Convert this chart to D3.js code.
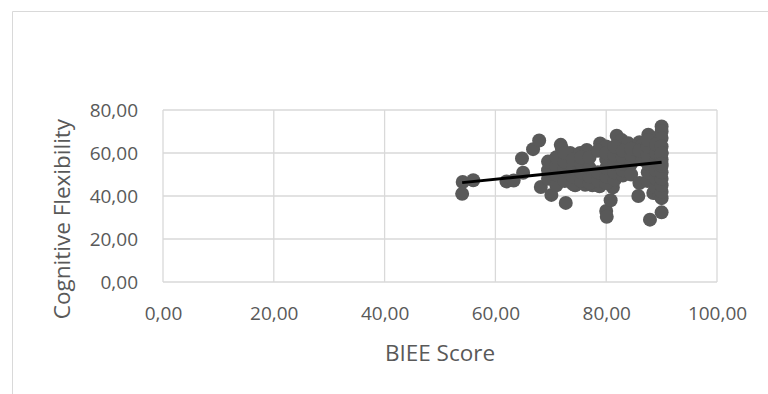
<!DOCTYPE html>
<html>
<head>
<meta charset="utf-8">
<script src="https://cdn.jsdelivr.net/npm/d3@7/dist/d3.min.js"></script>
<style>
  html, body { margin: 0; padding: 0; background: #fff; }
  svg { display: block; }
  text { font-family: "Open Sans", Lato, sans-serif; fill: #595959; }
</style>
</head>
<body>
<svg id="chart" width="768" height="394"></svg>
<script>
// BIEE score vs. cognitive flexibility, one point per participant
const biee = [
  54.1, 54.0, 56.0, 62.0, 63.3, 65.0, 64.8, 66.8, 67.9, 68.2, 70.1, 72.7,
  71.8, 72.0, 73.5, 75.3, 76.5, 78.9, 80.0, 81.9, 82.8, 84.0, 86.0, 86.5, 87.6, 89.0,
  90.0, 90.0, 90.0,
  74.4, 76.2, 77.5, 78.8, 80.0, 80.1, 80.8, 81.2, 85.8, 88.5, 89.6, 90.0, 87.9, 90.0,
  69.5, 69.5, 69.5,
  71.0, 71.0, 71.0, 71.0,
  72.5, 72.5, 72.5, 72.5,
  74.0, 74.0, 74.0, 74.0,
  75.5, 75.5, 75.5, 75.5,
  77.0, 77.0, 77.0, 77.0,
  78.5, 78.5, 78.5,
  80.0, 80.0, 80.0, 80.0, 80.0,
  81.5, 81.5, 81.5, 81.5, 81.5,
  83.0, 83.0, 83.0, 83.0, 83.0,
  84.5, 84.5, 84.5, 84.5,
  86.0, 86.5, 86.0,
  87.5, 87.5, 87.5, 87.5, 87.5, 87.5,
  89.0, 89.0, 89.0, 89.0, 89.0, 89.0,
  90.0, 90.0, 90.0, 90.0, 90.0, 90.0, 90.0, 90.0, 90.0, 90.0
];
const flexibility = [
  46.5, 41.0, 47.3, 46.8, 47.2, 50.8, 57.5, 61.8, 65.8, 44.2, 40.5, 36.8,
  63.8, 62.0, 60.0, 60.0, 61.4, 64.4, 63.0, 68.0, 66.0, 64.5, 65.0, 63.5, 68.5, 67.0,
  72.3, 70.0, 67.0,
  45.0, 45.2, 45.0, 44.5, 33.0, 30.3, 38.0, 44.0, 40.0, 41.4, 40.5, 39.0, 29.0, 32.4,
  48.0, 52.0, 56.0,
  45.0, 50.0, 54.0, 58.0,
  47.0, 52.0, 56.0, 60.0,
  45.5, 49.0, 53.0, 57.0,
  47.0, 51.0, 55.0, 58.0,
  46.0, 49.0, 53.0, 58.0,
  47.0, 51.0, 61.0,
  46.0, 49.0, 53.0, 57.0, 60.0,
  47.5, 51.0, 55.0, 59.0, 63.0,
  49.5, 52.0, 55.0, 58.0, 61.0,
  50.0, 55.0, 59.0, 62.0,
  46.0, 57.0, 61.0,
  47.0, 51.0, 55.0, 59.0, 63.0, 66.0,
  44.0, 48.0, 52.0, 56.0, 60.0, 64.0,
  42.0, 45.0, 48.0, 51.0, 54.0, 57.0, 60.0, 63.0, 60.0, 55.0
];
// linear trendline, given by its two ends
const trendX = [54, 90];
const trendY = [46.2, 55.7];
const xTicks = [0, 20, 40, 60, 80, 100];
const yTicks = [0, 20, 40, 60, 80];
const xTitle = "BIEE Score";
const yTitle = "Cognitive Flexibility";

const points = biee.map((x, i) => ({ x, y: flexibility[i] }));
const trend = trendX.map((x, i) => ({ x, y: trendY[i] }));

const svg = d3.select("#chart");
const plot = { left: 163, right: 717, top: 110, bottom: 282 };

const x = d3.scaleLinear().domain([0, 100]).range([plot.left, plot.right]);
const y = d3.scaleLinear().domain([0, 80]).range([plot.bottom, plot.top]);
const fmt = v => d3.format(".2f")(v).replace(".", ",");

// chart frame
svg.append("path")
  .attr("d", "M12.5,394 V11.5 H768")
  .attr("fill", "none")
  .attr("stroke", "#d9d9d9")
  .attr("stroke-width", 1);

// gridlines
const grid = svg.append("g").attr("stroke", "#d9d9d9").attr("stroke-width", 1.3);
grid.selectAll(".gy").data(yTicks).join("line")
  .attr("x1", plot.left).attr("x2", plot.right)
  .attr("y1", d => y(d)).attr("y2", d => y(d));
grid.selectAll(".gx").data(xTicks).join("line")
  .attr("y1", plot.top).attr("y2", plot.bottom)
  .attr("x1", d => x(d)).attr("x2", d => x(d));

// axes (labels only; lines are the gridlines)
const xAxis = svg.append("g")
  .attr("transform", `translate(0,${plot.bottom})`)
  .call(d3.axisBottom(x).tickValues(xTicks).tickFormat(fmt).tickSize(0).tickPadding(25));
const yAxis = svg.append("g")
  .attr("transform", `translate(${plot.left},0)`)
  .call(d3.axisLeft(y).tickValues(yTicks).tickFormat(fmt).tickSize(0).tickPadding(25));
[xAxis, yAxis].forEach(a => {
  a.select(".domain").remove();
  a.selectAll("text")
    .style("font-family", "'Open Sans', Lato, sans-serif")
    .style("font-size", "19px")
    .attr("fill", "#595959");
});

// markers
svg.append("g").selectAll("circle").data(points).join("circle")
  .attr("cx", d => x(d.x))
  .attr("cy", d => y(d.y))
  .attr("r", 7)
  .attr("fill", "#595959");

// trendline over the markers
svg.append("path")
  .datum(trend)
  .attr("d", d3.line().x(d => x(d.x)).y(d => y(d.y)))
  .attr("fill", "none")
  .attr("stroke", "#000").attr("stroke-width", 2.8);

// axis titles
svg.append("text")
  .attr("x", (plot.left + plot.right) / 2).attr("y", 361)
  .attr("text-anchor", "middle")
  .style("font-size", "22.5px")
  .text(xTitle);
svg.append("text")
  .attr("transform", "translate(70,219) rotate(-90)")
  .attr("text-anchor", "middle")
  .style("font-size", "22.5px")
  .text(yTitle);
</script>
</body>
</html>
